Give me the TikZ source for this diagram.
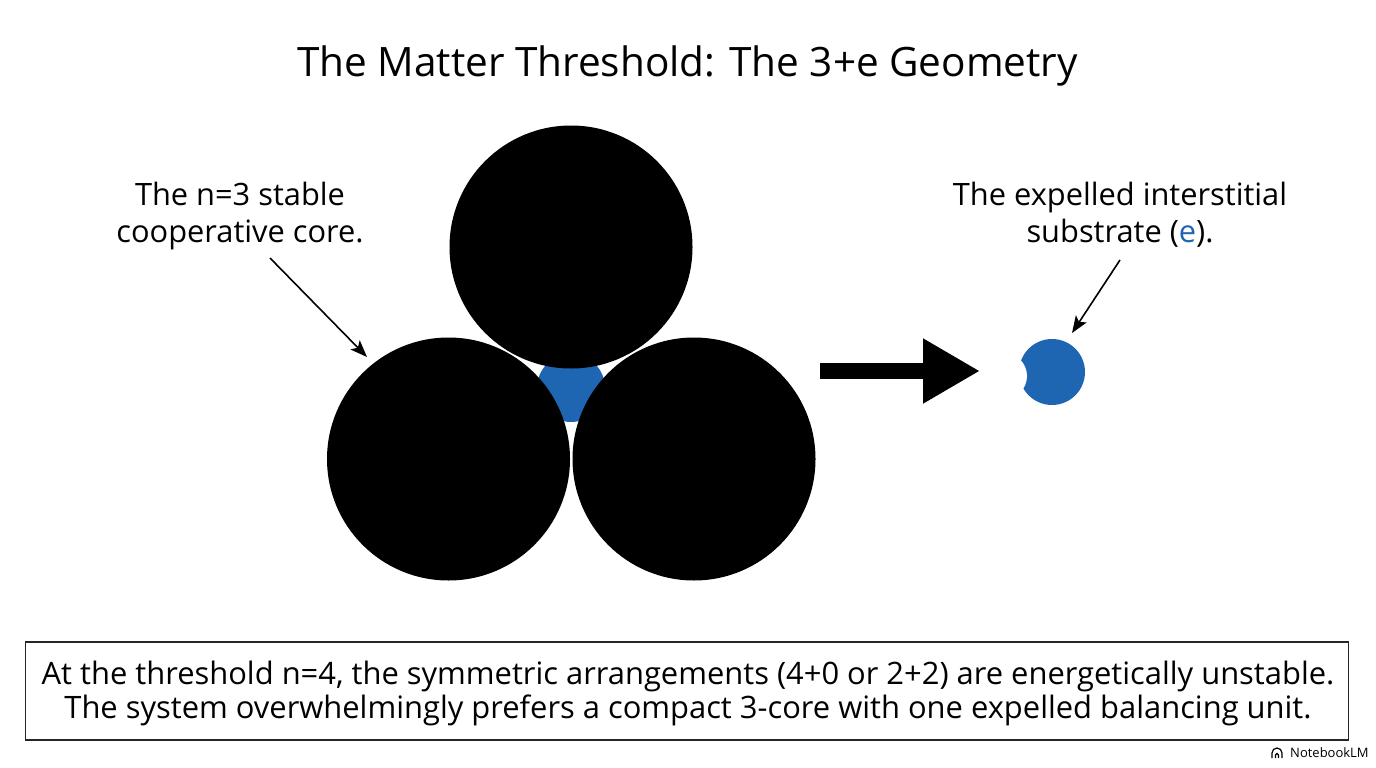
\documentclass[tikz,border=0pt]{standalone}
\usepackage{fontspec}
\setmainfont{Open Sans}
\usetikzlibrary{arrows.meta}
\definecolor{eblue}{RGB}{31,102,178}
\tikzset{
  core/.style={circle, fill=black, minimum size=243pt, inner sep=0pt, outer sep=0pt},
  lbl/.style={align=center, font=\fontsize{30.8}{37}\selectfont, inner sep=0pt, anchor=base},
  callout/.style={draw=black, line width=1.6pt, -{Stealth[length=17pt,width=13pt,inset=4pt]}},
}
\begin{document}
\begin{tikzpicture}[x=1pt,y=-1pt]
\useasboundingbox (0,0) rectangle (1376,768);
% title
\node[font=\fontsize{40.5}{48}\selectfont, anchor=base] (title) at (687.5,77) {The Matter Threshold: The 3+e Geometry};
% interstitial blue unit
\node[circle, fill=eblue, minimum size=68pt, inner sep=0pt] (inter) at (571,388) {};
% core circles
\node[core] (top) at (571,247) {};
\node[core] (bl) at (448.5,459) {};
\node[core] (br) at (694,459) {};
% expelled unit
\node[circle, fill=eblue, minimum size=66pt, inner sep=0pt] (exp) at (1052,372) {};
\fill[white] (1004,376) circle[radius=23pt];
% big arrow
\coordinate (bas) at (820,371);
\coordinate (bae) at (980,371);
\draw[line width=16pt, -{Triangle[length=57pt,width=61pt]}] (bas) -- (bae);
% labels (base anchor = last line baseline)
\node[lbl] (lcore) at (240,242) {The n=3 stable\\cooperative core.};
\node[lbl] (lexp) at (1120,242) {The expelled interstitial\\substrate ({\color{eblue}e}).};
\coordinate (c1s) at (270,258);
\coordinate (c1e) at (367,357);
\coordinate (c2s) at (1120,260);
\coordinate (c2e) at (1072,333);
\draw[callout] (c1s) -- (c1e);
\draw[callout] (c2s) -- (c2e);
% bottom box
\node[draw=black!85, line width=1.5pt, minimum width=1323pt, minimum height=98pt, inner sep=0pt] (box) at (687,691) {};
\node[align=center, font=\fontsize{30.9}{34}\selectfont, inner sep=0pt, anchor=base] (boxtext) at (688,718) {At the threshold n=4, the symmetric arrangements (4+0 or 2+2) are energetically unstable.\\The system overwhelmingly prefers a compact 3-core with one expelled balancing unit.};
% NotebookLM mark
\node[anchor=west, font=\fontsize{13}{14}\selectfont, inner sep=0pt] (nlm) at (1290,753) {NotebookLM};
\begin{scope}[line width=1.2pt]
\draw (1272,758) -- (1272,753) arc[start angle=180,end angle=0,x radius=5pt,y radius=5pt] -- (1282,758);
\draw (1275.5,758) -- (1275.5,755) arc[start angle=180,end angle=0,x radius=1.5pt,y radius=1.5pt] -- (1278.5,758);
\end{scope}
\end{tikzpicture}
\end{document}
